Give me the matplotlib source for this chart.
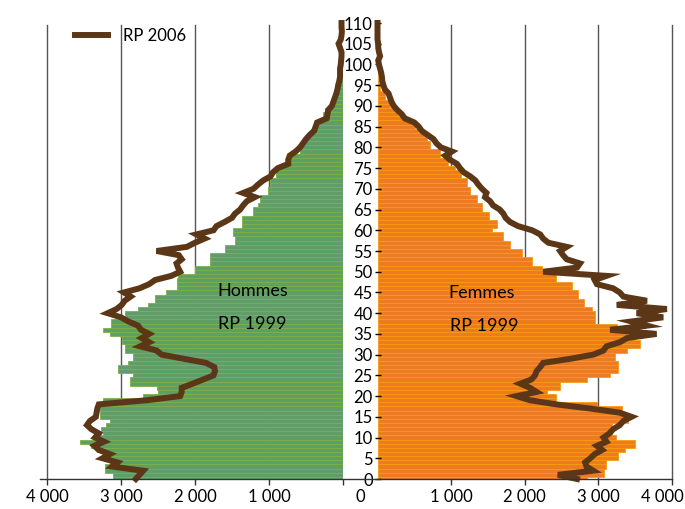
import numpy as np
import matplotlib
matplotlib.use("Agg")
import matplotlib.pyplot as plt
from matplotlib.lines import Line2D

plt.rcParams['font.family'] = ['Lato', 'DejaVu Sans']

# ages 0..98 for the 1999 bars, 0..110 for the 2006 line
ages_bar = np.arange(99)
ages_line = np.arange(111)

hommes_1999 = [
    3110, 3110, 3220, 3220, 3150, 3230, 3230, 3330, 3400, 3560,
    3380, 3250, 3270, 3200, 3150, 3290, 3290, 3280, 3270, 3250,
    2700, 2500, 2520, 2880, 2880, 2840, 3040, 3040, 2900, 2840,
    2840, 2950, 2950, 2990, 2990, 3150, 3250, 3130, 3130, 2950,
    2950, 2770, 2640, 2540, 2540, 2390, 2250, 2250, 2250, 2230,
    2000, 2000, 1800, 1800, 1800, 1600, 1600, 1460, 1460, 1490,
    1490, 1370, 1370, 1370, 1220, 1220, 1150, 1120, 1120, 1010,
    1010, 990, 990, 900, 900, 900, 760, 760, 700, 580,
    580, 560, 470, 470, 430, 400, 380, 270, 270, 250,
    150, 150, 100, 70, 70, 60, 30, 20, 10]

hommes_2006 = [
    2800, 2750, 2700, 3120, 3050, 3250, 3150, 3300, 3360, 3230,
    3350, 3300, 3400, 3460, 3420, 3340, 3330, 3320, 3300, 2650,
    2200, 2180, 2180, 2030, 1890, 1750, 1730, 1740, 1850, 2150,
    2450, 2520, 2740, 2620, 2720, 2620, 2730, 2770, 2900, 3000,
    3180, 3060, 2990, 2950, 2870, 2960, 2750, 2620, 2540, 2320,
    2200, 2230, 2250, 2180, 2220, 2520, 2110, 2000, 1870, 1980,
    1750, 1710, 1600, 1500, 1460, 1390, 1350, 1300, 1190, 1350,
    1210, 1150, 1080, 980, 945, 880, 740, 740, 720, 640,
    580, 540, 500, 450, 390, 370, 350, 220, 210, 200,
    150, 130, 110, 90, 75, 65, 50, 40, 40, 40,
    30, 25, 20, 20, 40, 60, 30, 20, 15, 20, 20]

femmes_1999 = [
    2840, 3070, 3070, 3110, 3110, 3270, 3270, 3360, 3500, 3500,
    3240, 3180, 3180, 3180, 3400, 3400, 3320, 3320, 2980, 2430,
    2430, 2300, 2480, 2480, 2840, 3160, 3270, 3270, 3270, 3220,
    3220, 3390, 3570, 3570, 3480, 3450, 3450, 3250, 2960, 2960,
    2960, 2910, 2800, 2800, 2730, 2730, 2640, 2640, 2430, 2430,
    2280, 2230, 2100, 2100, 1960, 1960, 1800, 1800, 1710, 1710,
    1550, 1620, 1620, 1520, 1520, 1420, 1420, 1350, 1350, 1260,
    1260, 1210, 1210, 1140, 1140, 1050, 960, 960, 850, 850,
    710, 710, 670, 670, 550, 510, 510, 370, 280, 280,
    170, 170, 100, 100, 35, 35, 20, 10, 5]

femmes_2006 = [
    2710, 2450, 2930, 2840, 2820, 2890, 2950, 3050, 2980, 3110,
    3070, 3150, 3200, 3290, 3340, 3450, 3290, 2890, 2430, 2070,
    1890, 2160, 2070, 1940, 2090, 2140, 2160, 2210, 2250, 2620,
    2930, 3070, 3110, 3290, 3390, 3790, 3160, 3660, 3450, 3880,
    3520, 3930, 3250, 3660, 3340, 3290, 3200, 2980, 2950, 3110,
    2250, 2710, 2750, 2570, 2520, 2480, 2570, 2320, 2250, 2210,
    2100, 1910, 1800, 1740, 1710, 1660, 1570, 1530, 1460, 1480,
    1420, 1370, 1330, 1260, 1170, 1120, 1080, 985, 920, 1010,
    860, 800, 760, 680, 600, 560, 500, 370, 330, 270,
    220, 190, 170, 150, 100, 80, 65, 60, 50, 35,
    20, 10, 35, 20, 10, 10, 0, 0, 0, 0, 0]

x_ticks = [1000, 2000, 3000, 4000]
x_labels = ["1 000", "2 000", "3 000", ""]   # last one drawn by hand, edge
age_ticks = list(range(0, 111, 5))

GREEN = "#5f9e66"
GREEN_EDGE = "#7db048"
ORANGE = "#ee7a22"
ORANGE_EDGE = "#f59c12"
BROWN = "#5c3717"
GRID = "#555555"

W, H = 685, 509
fig = plt.figure(figsize=(W / 100, H / 100), dpi=100)

y0, y1 = 479, 23
ax_l = fig.add_axes([47 / W, (H - y0) / H, (343 - 47) / W, (y0 - y1) / H])
ax_r = fig.add_axes([377.5 / W, (H - y0) / H, (672 - 377.5) / W, (y0 - y1) / H])

for ax in (ax_l, ax_r):
    ax.set_ylim(0, 110)
    for s in ax.spines.values():
        s.set_visible(False)
    for v in x_ticks:
        ax.axvline(v, color=GRID, lw=1, zorder=0, clip_on=False,
                   ymax=109.5 / 110)

# hommes (left, reversed axis)
ax_l.set_xlim(4000, 0)
ax_l.barh(ages_bar, hommes_1999, height=1.0, color=GREEN,
          edgecolor=GREEN_EDGE, linewidth=0.6, zorder=1)
ax_l.plot(hommes_2006, ages_line, color=BROWN, lw=4.3, zorder=3,
          solid_joinstyle="miter", label="RP 2006", clip_on=False)
ax_l.set_xticks([4000, 3000, 2000, 1000, 0])
ax_l.set_xticklabels(["4 000", "3 000", "2 000", "1 000", ""])
ax_l.set_yticks([])
ax_l.text(1220, 45.4, "Hommes", ha="center", va="center", fontsize=13)
ax_l.text(1220, 37.4, "RP 1999", ha="center", va="center", fontsize=13)

# femmes (right)
ax_r.set_xlim(0, 4000)
ax_r.barh(ages_bar, femmes_1999, height=1.0, color=ORANGE,
          edgecolor=ORANGE_EDGE, linewidth=0.6, zorder=1)
ax_r.plot(femmes_2006, ages_line, color=BROWN, lw=4.3, zorder=3,
          solid_joinstyle="miter", clip_on=False)
ax_r.set_xticks(x_ticks)
ax_r.set_xticklabels(x_labels)
ax_r.set_yticks(age_ticks)
ax_r.set_yticklabels([str(a) for a in age_ticks])
ax_r.text(1420, 44.9, "Femmes", ha="center", va="center", fontsize=13)
ax_r.text(1450, 37.0, "RP 1999", ha="center", va="center", fontsize=13)

for ax in (ax_l, ax_r):
    ax.tick_params(axis="x", direction="out", length=4, width=1,
                   color="#333333", labelsize=12, pad=3)
ax_r.tick_params(axis="y", direction="inout", length=5, width=1,
                 color="black", labelsize=12, pad=1)

# shared bottom axis line, the single central zero and the edge label
fig.add_artist(Line2D([40 / W, 672 / W], [(H - 479) / H] * 2,
                      color="#333333", lw=1))
fig.text(360 / W, (H - 497) / H, "0", ha="center", va="center", fontsize=12)
fig.text(684 / W, (H - 497) / H, "4 000", ha="right", va="center", fontsize=12)

ax_l.legend(loc="upper left", bbox_to_anchor=(75 / W, 1 - 28 / H),
            bbox_transform=fig.transFigure, frameon=False, fontsize=12,
            handlelength=2.0, handletextpad=0.9, borderpad=0,
            borderaxespad=0)

fig.savefig("out.png", dpi=100)
